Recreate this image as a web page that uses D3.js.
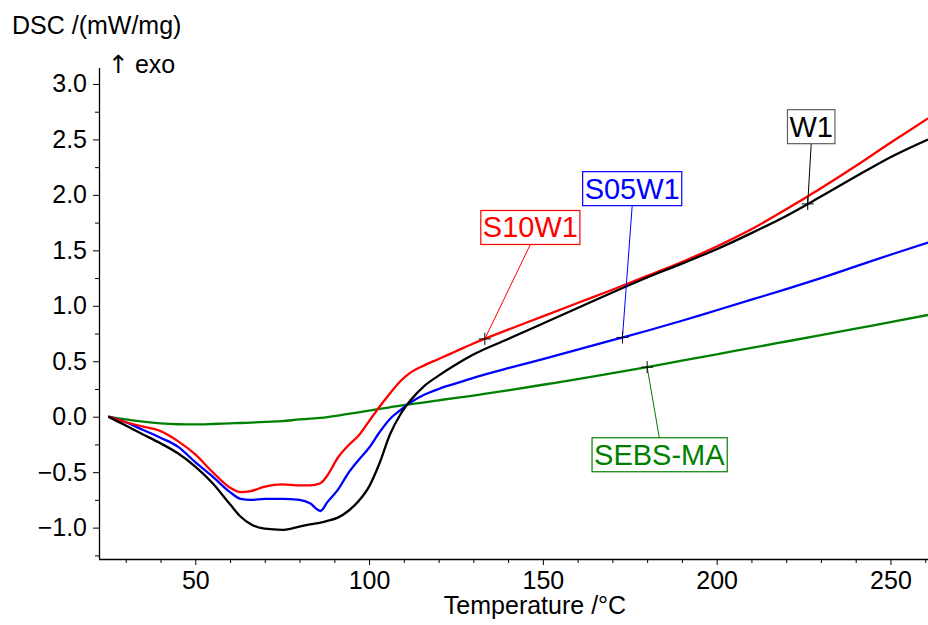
<!DOCTYPE html>
<html><head><meta charset="utf-8">
<script src="https://cdn.jsdelivr.net/npm/d3@7"></script>
<style>
html,body{margin:0;padding:0;background:#fff;}
svg{display:block;font-family:"Liberation Sans",Arial,sans-serif;}
</style></head>
<body>
<svg id="chart" width="928" height="625"></svg>
<script>
// ---- data ----
const temps = [25,30,35,40,45,50,55,60,63,66,70,75,80,83,86,88,91,94,97,100,103,106,109,112,116,120,125,130,140,150,160,170,180,190,200,210,220,230,240,250,260.8];
const W1 = [0,-0.08,-0.16,-0.24,-0.33,-0.45,-0.60,-0.79,-0.90,-0.97,-1.01,-1.02,-0.99,-0.97,-0.955,-0.94,-0.91,-0.85,-0.76,-0.63,-0.42,-0.16,0.02,0.15,0.28,0.37,0.47,0.56,0.70,0.84,0.98,1.12,1.255,1.38,1.51,1.655,1.81,1.985,2.165,2.34,2.50];
const S10W1 = [0,-0.05,-0.09,-0.13,-0.22,-0.34,-0.50,-0.64,-0.68,-0.67,-0.63,-0.61,-0.62,-0.62,-0.60,-0.53,-0.37,-0.26,-0.17,-0.04,0.09,0.21,0.32,0.40,0.465,0.52,0.59,0.66,0.785,0.905,1.025,1.145,1.27,1.395,1.535,1.69,1.87,2.06,2.26,2.47,2.69];
const S05W1 = [0,-0.05,-0.12,-0.19,-0.27,-0.41,-0.54,-0.68,-0.74,-0.75,-0.74,-0.74,-0.75,-0.78,-0.85,-0.77,-0.66,-0.51,-0.39,-0.28,-0.14,-0.02,0.06,0.13,0.20,0.25,0.30,0.35,0.437,0.52,0.605,0.69,0.775,0.865,0.96,1.055,1.15,1.25,1.355,1.46,1.57];
const SEBS_MA = [0,-0.025,-0.045,-0.06,-0.068,-0.07,-0.066,-0.06,-0.057,-0.053,-0.047,-0.04,-0.025,-0.018,-0.01,-0.003,0.01,0.025,0.04,0.055,0.07,0.085,0.10,0.113,0.13,0.148,0.17,0.19,0.238,0.288,0.338,0.392,0.447,0.505,0.563,0.62,0.678,0.736,0.794,0.852,0.917];
const seriesNames = ["SEBS-MA","S05W1","S10W1","W1"];
const seriesValues = [SEBS_MA, S05W1, S10W1, W1];
const seriesColors = ["#008000","#0000ff","#ff0000","#000000"];
// annotation: marker temperature on curve, label box centre (T, value)
const labelMarkT = [180, 172.9, 133.3, 226.2];
const labelBoxT = [183.5, 175.7, 146.4, 227.2];
const labelBoxV = [-0.343, 2.056, 1.706, 2.615];
const labelBorder = ["#008000","#0000ff","#ff0000","#606060"];
const xTicksMajor = [50,100,150,200,250];
const yTicksMajor = [-1.0,-0.5,0.0,0.5,1.0,1.5,2.0,2.5,3.0];
const xLabel = "Temperature /°C";
const yLabel = "DSC /(mW/mg)";
const exoArrow = "↑";
const exoLabel = "exo";

// ---- scales ----
const svg = d3.select("#chart");
const x = d3.scaleLinear().domain([22.3, 260.8]).range([99, 928]);
const y = d3.scaleLinear().domain([-1.283, 3.144]).range([559, 68]);

svg.append("defs").append("clipPath").attr("id","clip")
  .append("rect").attr("x",99).attr("y",60).attr("width",829).attr("height",499);

// ---- axes ----
const xMinor = d3.range(30, 261, 10).filter(v => v % 50 !== 0);
const yMinor = d3.range(-1.25, 3.01, 0.25).filter(v => Math.abs(v*2 - Math.round(v*2)) > 1e-6);

const gx = svg.append("g").attr("transform","translate(0,559)");
gx.call(d3.axisBottom(x).tickValues(xTicksMajor).tickSize(6).tickPadding(6).tickFormat(d3.format("d")));
gx.append("g").call(d3.axisBottom(x).tickValues(xMinor).tickSize(4).tickFormat(""));
gx.selectAll(".domain").remove();
gx.append("line").attr("x1",99).attr("x2",928).attr("y1",0.5).attr("y2",0.5).attr("stroke","#000").attr("stroke-width",1.3);
gx.selectAll("text").attr("font-size",25).attr("fill","#000").attr("font-family","Liberation Sans, Arial, sans-serif");

const gy = svg.append("g").attr("transform","translate(99,0)");
gy.call(d3.axisLeft(y).tickValues(yTicksMajor).tickSize(6).tickPadding(6).tickFormat(d3.format(".1f")));
gy.append("g").call(d3.axisLeft(y).tickValues(yMinor).tickSize(4).tickFormat(""));
gy.selectAll(".domain").remove();
gy.append("line").attr("x1",0.5).attr("x2",0.5).attr("y1",68).attr("y2",559).attr("stroke","#000").attr("stroke-width",1.3);
gy.selectAll("text").attr("font-size",25).attr("fill","#000").attr("font-family","Liberation Sans, Arial, sans-serif");
svg.selectAll(".tick line").attr("stroke","#000");

svg.append("text").attr("x",535).attr("y",614).attr("text-anchor","middle")
  .attr("font-size",25).attr("fill","#000").text(xLabel);
svg.append("text").attr("x",12).attr("y",34).attr("font-size",25).attr("fill","#000").text(yLabel);
const exo = svg.append("text").attr("x",108).attr("y",73).attr("font-size",25).attr("fill","#000");
exo.append("tspan").attr("font-family","DejaVu Sans").attr("font-weight","normal").attr("fill","#000").text(exoArrow);
exo.append("tspan").attr("dx",6).text(exoLabel);

// ---- curves ----
const line = d3.line().x(d => x(d[0])).y(d => y(d[1])).curve(d3.curveMonotoneX);
const plot = svg.append("g").attr("clip-path","url(#clip)");
seriesValues.forEach((vals, i) => {
  const pts = temps.map((t, j) => [t, vals[j]]);
  plot.append("path").datum(pts).attr("d", line)
    .attr("fill","none").attr("stroke", seriesColors[i]).attr("stroke-width",2.3)
    .attr("stroke-linejoin","round");
});

// ---- annotations ----
seriesNames.forEach((name, i) => {
  const vals = seriesValues[i];
  const mt = labelMarkT[i];
  const mv = d3.scaleLinear().domain(temps).range(vals)(mt);
  const px = x(mt), py = y(mv);
  const bx = x(labelBoxT[i]), by = y(labelBoxV[i]);
  const g = svg.append("g");
  const t = g.append("text").attr("x",bx).attr("y",by).attr("text-anchor","middle")
    .attr("dominant-baseline","central").attr("font-size",29).attr("fill",seriesColors[i]).text(name);
  const bb = t.node().getBBox();
  const padX = 2, h = 34;
  const rx = bb.x - padX, rw = bb.width + 2*padX;
  g.insert("rect","text").attr("x",rx).attr("y",by - h/2).attr("width",rw).attr("height",h)
    .attr("fill","#fff").attr("stroke",labelBorder[i]).attr("stroke-width",1.2);
  const ey = py < by ? by - h/2 : by + h/2;
  g.insert("line","rect").attr("x1",px).attr("y1",py).attr("x2",bx).attr("y2",ey)
    .attr("stroke",seriesColors[i]).attr("stroke-width",1);
  g.append("path").attr("d",`M${px-6},${py}H${px+6}M${px},${py-6}V${py+6}`)
    .attr("stroke","#000").attr("stroke-width",1);
});
</script>
</body></html>
